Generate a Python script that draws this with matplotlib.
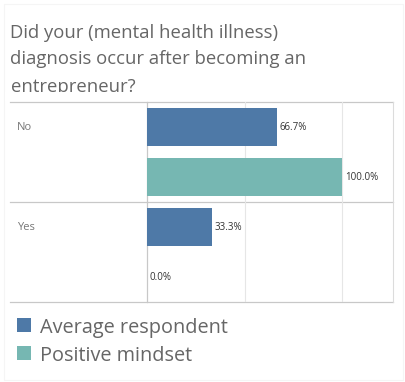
import numpy as np
import matplotlib as mpl
from matplotlib import pyplot as plt
from matplotlib.lines import Line2D
from matplotlib.patches import Rectangle

plt.rcParams['font.family'] = ['Open Sans', 'DejaVu Sans']

# data
categories = ['No', 'Yes']
series = ['Average respondent', 'Positive mindset']
values = {
    'Average respondent': [66.7, 33.3],
    'Positive mindset': [100.0, 0.0],
}
colors = {'Average respondent': '#4e79a7', 'Positive mindset': '#76b7b2'}
title_lines = ['Did your (mental health illness)',
               'diagnosis occur after becoming an',
               'entrepreneur?']

W, H = 405, 382
dpi = 100


def fx(px):
    return px / W


def fy(py):
    return 1 - py / H


fig = plt.figure(figsize=(W / dpi, H / dpi), dpi=dpi)

# faint outer frame
fig.add_artist(Rectangle((fx(4), fy(380)), fx(399), 376 / H,
                         transform=fig.transFigure, fill=False,
                         edgecolor='#f5f5f5', linewidth=0.8))

# title, three lines, the last one cut by the chart pane
for line, base in zip(title_lines, [37.5, 64.5, 92.5]):
    fig.text(fx(10.5), fy(base), line, fontsize=13.3, color='#666666',
             ha='left', va='baseline', zorder=3)
fig.add_artist(Rectangle((fx(5), fy(101)), fx(395), 9 / H,
                         transform=fig.transFigure, facecolor='white',
                         edgecolor='none', zorder=4))

# bar axes: 0% at x=147px, 100% at x=342px
ax_left, ax_right = 147, 393
ax_top, ax_bot = 102, 302
ax = fig.add_axes([fx(ax_left), fy(ax_bot), fx(ax_right - ax_left),
                   (ax_bot - ax_top) / H], zorder=5)
px_per_unit = (342 - 147) / 100.0
ax.set_xlim(0, (ax_right - ax_left) / px_per_unit)
n_slots = len(categories) * len(series)
ax.set_ylim(n_slots, 0)

for xv in [50, 100]:
    ax.axvline(xv, color='#e6e6e6', linewidth=0.8, zorder=0)

for ci, cat in enumerate(categories):
    for si, s in enumerate(series):
        y = ci * len(series) + si + 0.5
        v = values[s][ci]
        ax.barh(y, v, height=0.75, color=colors[s], zorder=2)
        ax.annotate('%.1f%%' % v, (v, y), xytext=(2, 0),
                    textcoords='offset points', ha='left', va='center',
                    fontsize=7, color='#333333')

ax.axis('off')

# frame lines of the table
line_kw = dict(transform=fig.transFigure, color='#c8c8c8', linewidth=0.9)
for py in [ax_top, 202, ax_bot]:
    fig.add_artist(Line2D([fx(10), fx(ax_right)], [fy(py), fy(py)], **line_kw))
fig.add_artist(Line2D([fx(146.5), fx(146.5)], [fy(ax_top), fy(ax_bot)], **line_kw))
fig.add_artist(Line2D([fx(ax_right), fx(ax_right)], [fy(ax_top), fy(ax_bot)],
                      transform=fig.transFigure, color='#dcdcdc', linewidth=0.8))

# category labels
for ci, cat in enumerate(categories):
    fig.text(fx(17), fy(127 + ci * 100), cat, fontsize=8, color='#777777',
             ha='left', va='center')

# legend
for si, s in enumerate(series):
    top = 318 + si * 28
    fig.add_artist(Rectangle((fx(17), fy(top + 14)), fx(14), 14 / H,
                             transform=fig.transFigure,
                             facecolor=colors[s], edgecolor='none'))
    fig.text(fx(40), fy(top + 15), s, fontsize=14.3, color='#666666',
             ha='left', va='baseline')

fig.savefig('out.png', dpi=dpi)
